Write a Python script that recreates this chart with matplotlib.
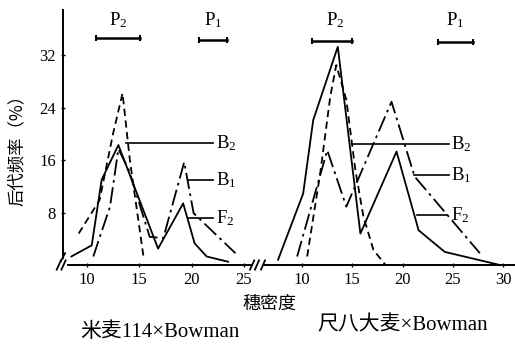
import matplotlib
matplotlib.use('Agg')
import matplotlib.pyplot as plt

plt.rcParams['font.family'] = ['Liberation Serif', 'Noto Sans CJK SC']
plt.rcParams['mathtext.fontset'] = 'custom'
plt.rcParams['mathtext.rm'] = 'Liberation Serif'
plt.rcParams['mathtext.it'] = 'Liberation Serif:italic'

# 米麦114 x Bowman
l_b2_x = [9.2, 11.2, 12.5, 13.4, 14.1, 15.4]
l_b2_y = [4.8, 9.9, 20.1, 26.2, 16.0, 1.3]
l_b1_x = [10.6, 12.2, 13.0, 14.0, 16.0, 17.3, 19.3, 20.2, 24.2]
l_b1_y = [1.3, 8.9, 17.7, 14.5, 4.3, 4.1, 15.7, 7.9, 1.8]
l_f2_x = [8.5, 10.45, 11.4, 13.0, 16.8, 19.2, 20.3, 21.45, 23.5]
l_f2_y = [1.3, 3.0, 13.0, 18.3, 2.5, 9.4, 3.3, 1.3, 0.5]
l_p2 = [10.9, 15.1]
l_p1 = [20.7, 23.4]

# 尺八大麦 x Bowman
r_b2_x = [10.5, 11.8, 12.8, 13.4, 14.4, 15.3, 16.1, 17.1, 18.3]
r_b2_y = [1.3, 14.0, 25.7, 30.5, 25.2, 14.5, 7.4, 2.3, 0.0]
r_b1_x = [9.5, 12.5, 14.4, 18.9, 21.2, 27.7]
r_b1_y = [1.3, 17.5, 8.9, 24.9, 13.5, 1.8]
r_f2_x = [7.6, 10.1, 11.1, 13.55, 15.8, 19.4, 21.6, 24.2, 29.7]
r_f2_y = [0.8, 10.9, 22.1, 33.3, 4.8, 17.3, 5.3, 2.0, 0.0]
r_p2 = [11.0, 15.0]
r_p1 = [23.5, 27.0]

yticks = [8, 16, 24, 32]
l_xticks = [10, 15, 20, 25]
r_xticks = [10, 15, 20, 25, 30]

lw = 1.3
fig = plt.figure(figsize=(5.15, 3.45), dpi=100)
axl = fig.add_axes([63/515, 80/345, 191/515, 255/345])
axr = fig.add_axes([262/515, 80/345, 253/515, 255/345])
axl.set_xlim(7.7, 25.98)
axr.set_xlim(6.0, 31.2)

for ax in (axl, axr):
    ax.set_ylim(0, 38.9)
    ax.patch.set_alpha(0)
    ax.spines['top'].set_visible(False)
    ax.spines['right'].set_visible(False)
    ax.tick_params(labelsize=12, width=1, length=3, direction='inout')

axl.set_yticks(yticks)
axl.set_xticks(l_xticks)
axl.spines['left'].set_bounds(1.0, 38.9)
axl.spines['bottom'].set_bounds(8.2, 25.8)
axl.spines['left'].set_linewidth(1.4)
axl.spines['bottom'].set_linewidth(1.4)
axr.spines['left'].set_visible(False)
axr.set_yticks([])
axr.set_xticks(r_xticks)
axr.spines['bottom'].set_bounds(6.2, 31.2)
axr.spines['bottom'].set_linewidth(1.4)

def panel(ax, b2x, b2y, b1x, b1y, f2x, f2y, p2, p1, lead, lab_x, p_lab, p_y):
    ax.plot(b2x, b2y, color='black', lw=lw, dashes=(4, 2.5), clip_on=False)
    ax.plot(b1x, b1y, color='black', lw=lw, dashes=(9, 2.5, 1.5, 2.5), clip_on=False)
    ax.plot(f2x, f2y, color='black', lw=lw, clip_on=False)
    for (x0, x1, y), s in zip(lead, [r'$\mathrm{B}_{2}$', r'$\mathrm{B}_{1}$', r'$\mathrm{F}_{2}$']):
        ax.plot([x0, x1], [y, y], color='black', lw=1.2, clip_on=False)
        ax.text(lab_x, y, s, fontsize=13.5, va='center', ha='left')
    for (a, b), yy in zip([p2, p1], p_y):
        ax.plot([a, b], [yy, yy], color='black', lw=1.8, marker='|', ms=5, mew=1.5, clip_on=False)
    for xx, s in zip(p_lab, [r'$\mathrm{P}_{2}$', r'$\mathrm{P}_{1}$']):
        ax.text(xx, 37.3, s, fontsize=13.5, ha='center', va='center')

panel(axl, l_b2_x, l_b2_y, l_b1_x, l_b1_y, l_f2_x, l_f2_y, l_p2, l_p1,
      [(13.75, 22.1, 18.6), (19.65, 22.1, 13.0), (19.7, 22.1, 7.2)], 22.3,
      [13.0, 22.05], [34.7, 34.3])
panel(axr, r_b2_x, r_b2_y, r_b1_x, r_b1_y, r_f2_x, r_f2_y, r_p2, r_p1,
      [(15.0, 24.6, 18.5), (21.1, 24.6, 13.7), (21.4, 24.4, 7.6)], 24.8,
      [13.3, 25.2], [34.1, 34.0])

# axis break marks
for ax, xs in ((axl, [7.3, 7.75, 25.8]), (axr, [5.5, 6.1])):
    for x in xs:
        ax.plot([x - 0.2, x + 0.2], [-0.7, 0.7], color='black', lw=1.3, clip_on=False)
axl.plot([7.5, 7.9], [0.6, 1.8], color='black', lw=1.3, clip_on=False)

fig.text(17/515, 1 - 146/345, '后代频率（%）', rotation=90, fontsize=12.5,
         family=['Noto Sans CJK SC'], ha='center', va='center')
fig.text(269/515, 1 - 304/345, '穗密度', fontsize=13, family=['Noto Sans CJK SC'],
         ha='center', va='center')
fig.text(160/515, 1 - 332/345, '米麦114×Bowman', fontsize=15, ha='center', va='center')
fig.text(403/515, 1 - 326/345, '尺八大麦×Bowman', fontsize=15, ha='center', va='center')

fig.savefig('out.png', dpi=100)
